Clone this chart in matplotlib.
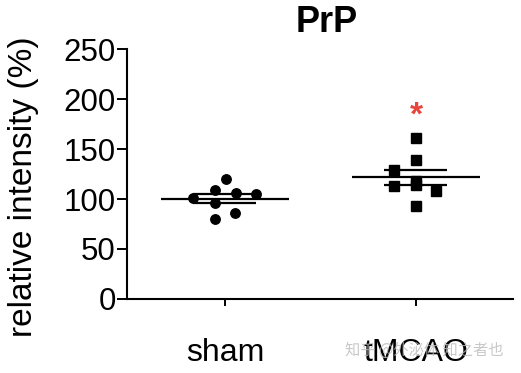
import numpy as np
import matplotlib
matplotlib.use("Agg")
import matplotlib.pyplot as plt

plt.rcParams['font.family'] = ['Liberation Sans', 'DejaVu Sans']

groups = ["sham", "tMCAO"]
sham_values = [120, 109, 106, 105, 101, 96, 86, 80]
sham_offsets = [0.005, -0.05, 0.058, 0.16, -0.165, -0.05, 0.055, -0.05]
tmcao_values = [161, 139, 129, 118, 114, 113, 108, 93]
tmcao_offsets = [0.0, 0.0, -0.115, 0.0, 0.0, -0.115, 0.105, 0.0]
yticks = [0, 50, 100, 150, 200, 250]

fig = plt.figure(figsize=(5.21, 3.73), dpi=100)
ax = fig.add_axes([0.2438, 0.1984, 0.7408, 0.6702])

series = [(sham_values, sham_offsets, 'o'), (tmcao_values, tmcao_offsets, 's')]
for i, (vals, offs, mk) in enumerate(series):
    vals = np.array(vals, dtype=float)
    xs = i + np.array(offs)
    ax.plot(xs, vals, linestyle='none', marker=mk, color='black',
            markersize=6.8, clip_on=False, zorder=3)
    mean = vals.mean()
    sem = vals.std(ddof=1) / np.sqrt(len(vals))
    ax.hlines(mean, i - 0.335, i + 0.335, color='black', lw=1.6, zorder=4)
    ax.hlines([mean - sem, mean + sem], i - 0.165, i + 0.165,
              color='black', lw=1.6, zorder=4)

# significance star
ax.text(1, tmcao_values[0] + 22, '*', color='#e8453c', fontsize=24,
        ha='center', va='center', fontweight='bold')

ax.set_xlim(-0.513, 1.508)
ax.set_ylim(0, 250)
ax.set_yticks(yticks)
ax.set_xticks([0, 1])
ax.set_xticklabels(groups, fontsize=23)
ax.tick_params(axis='y', labelsize=22.5, width=1.4, length=7, pad=1)
ax.tick_params(axis='x', width=1.4, length=5, pad=23)
for s in ['top', 'right']:
    ax.spines[s].set_visible(False)
for s in ['left', 'bottom']:
    ax.spines[s].set_linewidth(1.5)
ax.set_ylabel('relative intensity (%)', fontsize=24)
ax.yaxis.set_label_coords(-0.228, 0.45)

fig.text(327 / 521, 1 - 23 / 373, 'PrP', fontsize=26, fontweight='bold',
         ha='center', va='center')

# watermark
fig.text(424 / 521, 1 - 350 / 373, '知乎 @外泌体 知之者也', fontsize=11,
         color='#bbbbbb', alpha=0.8, ha='center', va='center',
         family=['Noto Sans CJK SC', 'DejaVu Sans'])

fig.savefig('out.png', dpi=100)
